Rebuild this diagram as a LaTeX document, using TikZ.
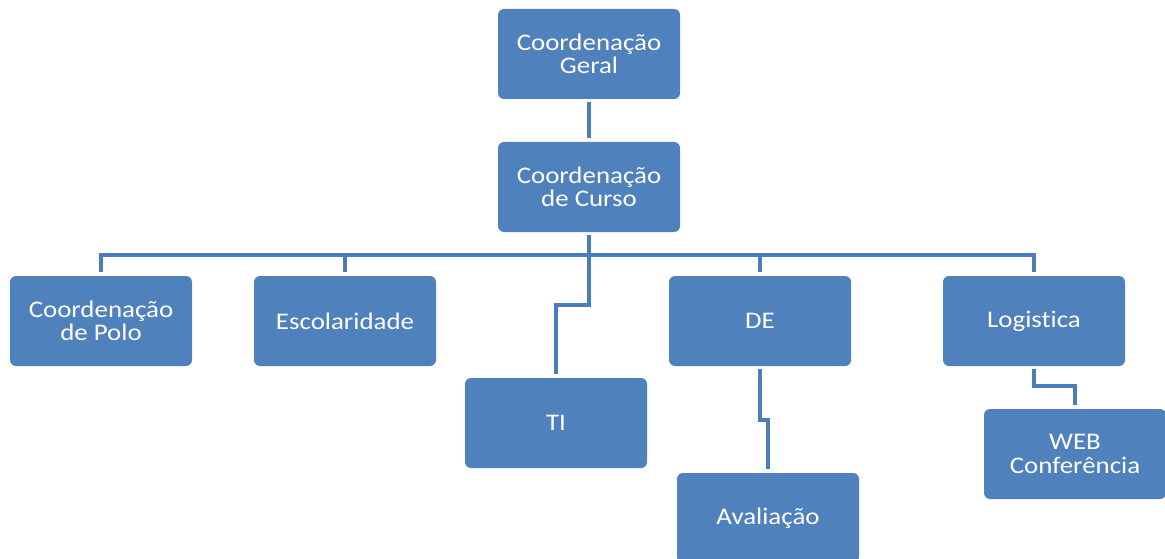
\documentclass[tikz,border=0pt]{standalone}
\usepackage{fontspec}
\setmainfont{Carlito}[FakeStretch=1.13, Ligatures=NoCommon]
\usetikzlibrary{positioning}
\definecolor{boxblue}{HTML}{4F81BD}
\definecolor{lineblue}{HTML}{4A7EBB}
\begin{document}
\begin{tikzpicture}[x=1pt,y=-1pt,
  orgbox/.style={rectangle, rounded corners=6pt, fill=boxblue, draw=none,
    minimum width=182pt, minimum height=90pt, inner sep=0pt, align=center,
    text=white, font=\fontsize{23.8}{23.3}\selectfont},
  conn/.style={draw=lineblue, line width=4.5pt, shorten <=3pt, shorten >=4pt}]
\useasboundingbox (0,0) rectangle (1165,559);
\clip (0,0) rectangle (1165,559);
\fill[white] (0,0) rectangle (1165,559);

\node[orgbox] (geral) at (589,54) {Coordenação\\Geral};
\node[orgbox] (curso) at (589,187) {Coordenação\\de Curso};
\node[orgbox] (polo) at (101,321) {Coordenação\\de Polo};
\node[orgbox] (escol) at (345,321) {Escolaridade};
\node[orgbox] (ti) at (556,423) {TI};
\node[orgbox] (de) at (760,321) {DE};
\node[orgbox] (logi) at (1034,321) {Logistica};
\node[orgbox] (web) at (1075,454) {WEB\\Conferência};
\node[orgbox] (aval) at (768,518) {Avaliação};

\coordinate (bus) at (589,255);
\coordinate (tibend) at (589,305);
\coordinate (debend) at (760,420);
\coordinate (logbend) at (1034,386);

\draw[conn] (geral.south) -- (curso.south |- curso.north);
\draw[conn, shorten >=0pt] (curso.south) -- (bus);
\draw[conn, shorten <=0pt, line width=4pt] (bus) -| (polo.north);
\draw[conn, shorten <=0pt, line width=4pt] (bus) -| (escol.north);
\draw[conn, shorten <=0pt, line width=4pt] (bus) -| (de.north);
\draw[conn, shorten <=0pt, line width=4pt] (bus) -| (logi.north);
\draw[conn, shorten <=0pt] (bus) -- (tibend) -| (ti.north);
\draw[conn] (de.south) -- (debend) -| (aval.north);
\draw[conn] (logi.south) -- (logbend) -| (web.north);
\end{tikzpicture}
\end{document}
